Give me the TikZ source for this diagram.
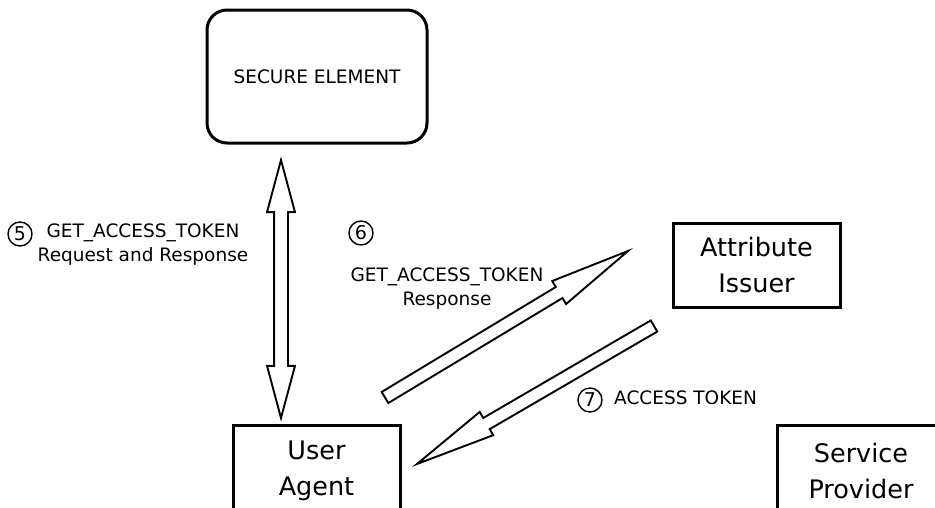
\documentclass[tikz,border=0pt]{standalone}
\usepackage{fontspec}
\setmainfont{DejaVu Sans}
\usetikzlibrary{calc, positioning, shapes.arrows}
\newcommand{\bigtext}{\fontsize{25.5}{36}\selectfont}
\newcommand{\smalltext}{\fontsize{18.5}{24}\selectfont}

\begin{document}
\begin{tikzpicture}[x=1pt, y=-1pt,
  box/.style={draw, line width=3pt, minimum width=167pt, minimum height=92pt, align=center, font=\bigtext, inner sep=0pt},
  msg/.style={align=center, font=\smalltext, inner sep=0pt},
  num/.style={circle, draw, line width=1.4pt, minimum size=24pt, inner sep=0pt, font=\fontsize{19}{20}\selectfont},
  fat/.style={draw, line width=1.9pt, outer sep=0pt, inner xsep=0pt, sloped, allow upside down}]
\useasboundingbox (0,0) rectangle (935,507);
\clip (0,0) rectangle (935,507);

% boxes
\node[box, rounded corners=20pt, minimum width=220pt, minimum height=133pt, font=\smalltext] (se) at (317,76.5) {SECURE ELEMENT};
\node[box, minimum height=84pt] (issuer) at (756.5,265) {Attribute\\Issuer};
\node[box] (agent) at (316.5,471) {User\\Agent};
\node[box] (provider) at (861,471) {Service\\Provider};

% arrow ends
\coordinate (a5s) at (281,160);
\coordinate (a5e) at (281,418);
\coordinate (a6s) at (385,397.5);
\coordinate (a6e) at (628,251);
\coordinate (a7s) at (654,326);
\coordinate (a7e) at (417,464);

\path let \p1=($(a5e)-(a5s)$), \n1={veclen(\x1,\y1)} in (a5s) -- (a5e)
  node[midway, fat, double arrow, double arrow head extend=7pt, double arrow tip angle=30, inner ysep=6pt, minimum height=\n1] (a5) {};
\path let \p1=($(a6e)-(a6s)$), \n1={veclen(\x1,\y1)} in (a6s) -- (a6e)
  node[pos=0, anchor=tail, fat, single arrow, single arrow head extend=7pt, single arrow tip angle=19, inner ysep=5.5pt, minimum height=\n1] (a6) {};
\path let \p1=($(a7e)-(a7s)$), \n1={veclen(\x1,\y1)} in (a7s) -- (a7e)
  node[pos=0, anchor=tail, fat, single arrow, single arrow head extend=7pt, single arrow tip angle=19, inner ysep=5.5pt, minimum height=\n1] (a7) {};

% labels
\node[num] (n5) at (20,234) {5};
\node[msg] (m5) at (143,245) {GET\_ACCESS\_TOKEN\\Request and Response};
\node[num] (n6) at (361,233) {6};
\node[msg] (m6) at (447,289) {GET\_ACCESS\_TOKEN\\Response};
\node[num] (n7) at (590,400) {7};
\node[msg, anchor=west] (m7) at (614,398) {ACCESS TOKEN};
\end{tikzpicture}
\end{document}
